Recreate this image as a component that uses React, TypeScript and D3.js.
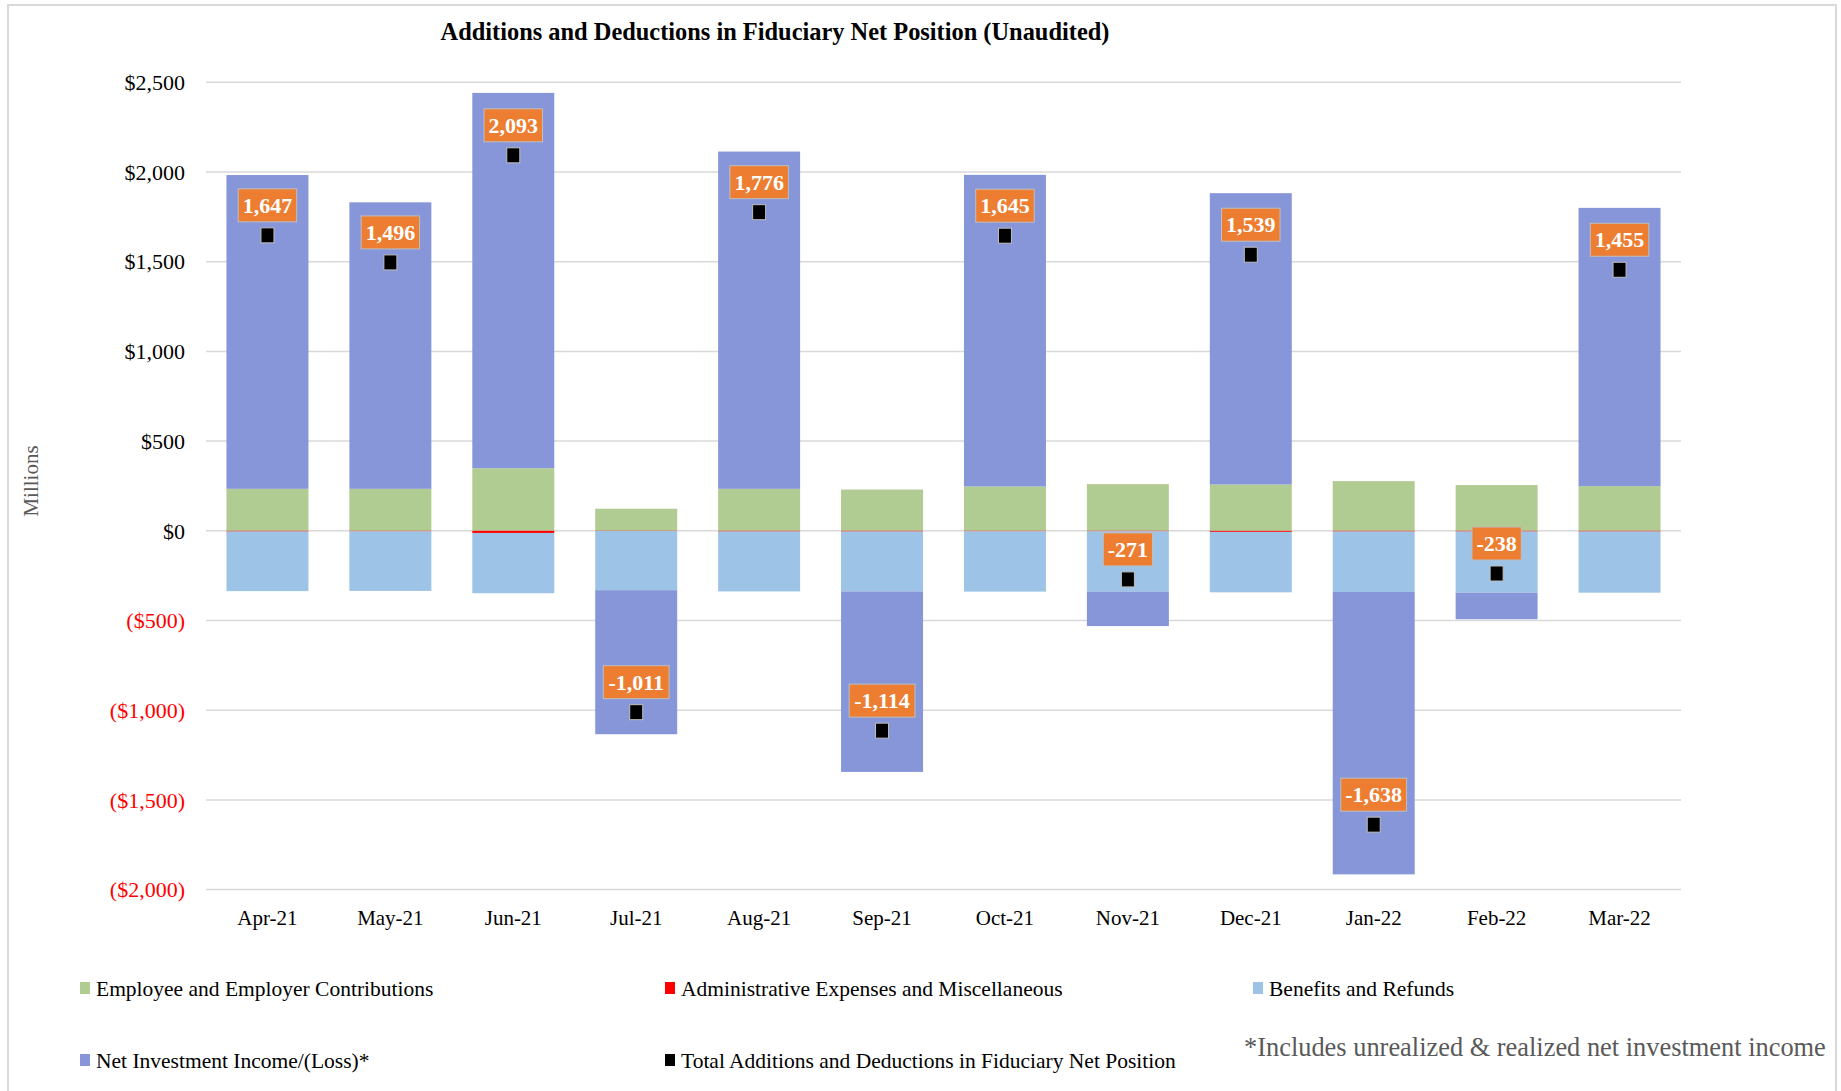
import React from "react";
import * as d3 from "d3";

const months = ["Apr-21","May-21","Jun-21","Jul-21","Aug-21","Sep-21","Oct-21","Nov-21","Dec-21","Jan-22","Feb-22","Mar-22"];
const contributions = [234, 234, 349, 123, 234, 230, 247, 260, 258, 277, 255, 249];
const adminExpenses = [-4, -3, -12, -1, -4, -4, -3, -3, -6, -4, -4, -4];
const benefits = [-332, -332, -336, -330, -334, -334, -336, -336, -337, -337, -341, -341];
const investment = [1749, 1597, 2092, -803, 1880, -1006, 1737, -192, 1624, -1574, -148, 1551];
const totals = [1647, 1496, 2093, -1011, 1776, -1114, 1645, -271, 1539, -1638, -238, 1455];
const yTicks = [2500, 2000, 1500, 1000, 500, 0, -500, -1000, -1500, -2000];

const seriesKeys = ["contrib", "admin", "benefits", "invest"];
const seriesColors: Record<string, string> = {
  contrib: "#B1CC93",
  admin: "#FF0000",
  benefits: "#9DC3E6",
  invest: "#8696D8",
};

const legendItems = [
  { label: "Employee and Employer Contributions", color: "#B1CC93", x: 80, y: 988 },
  { label: "Administrative Expenses and Miscellaneous", color: "#FF0000", x: 665, y: 988 },
  { label: "Benefits and Refunds", color: "#9DC3E6", x: 1253, y: 988 },
  { label: "Net Investment Income/(Loss)*", color: "#8696D8", x: 80, y: 1060 },
  { label: "Total Additions and Deductions in Fiduciary Net Position", color: "#000000", x: 665, y: 1060 },
];

const FONT = "'Liberation Serif', 'Times New Roman', serif";

const comma = d3.format(",");
function fmtTick(v: number) {
  const s = comma(Math.abs(v));
  return v < 0 ? `($${s})` : `$${s}`;
}
function fmtLabel(v: number) {
  return (v < 0 ? "-" : "") + comma(Math.abs(v));
}

export default function App() {
  const W = 1841, H = 1091;
  const left = 206, right = 1681, top = 82.3, bottom = 889.6;

  const x = d3.scaleBand<string>().domain(months).range([left, right]).paddingInner(0.333).paddingOuter(0.1665);
  const y = d3.scaleLinear().domain([-2000, 2500]).range([bottom, top]);

  const rows = months.map((m, i) => ({
    month: m,
    contrib: contributions[i],
    admin: adminExpenses[i],
    benefits: benefits[i],
    invest: investment[i],
  }));
  const stacked = d3.stack<any>().keys(seriesKeys).offset(d3.stackOffsetDiverging)(rows);

  const bw = x.bandwidth();

  return (
    <svg width={W} height={H} style={{ position: "absolute", left: 0, top: 0 }} fontFamily={FONT}>
      <rect x={0} y={0} width={W} height={H} fill="#fff" />
      <rect x={8} y={5} width={1828} height={1100} fill="none" stroke="#D9D9D9" strokeWidth={2} />
      <text x={775} y={40} textAnchor="middle" fontSize={24.4} fontWeight="bold" fill="#000">
        Additions and Deductions in Fiduciary Net Position (Unaudited)
      </text>

      {yTicks.map((t) => (
        <g key={t}>
          <line x1={left} x2={right} y1={y(t)} y2={y(t)} stroke="#D9D9D9" strokeWidth={1.5} />
          <text x={185} y={y(t)} dy="0.35em" textAnchor="end" fontSize={22} fill={t < 0 ? "#FF0000" : "#000"}>
            {fmtTick(t)}
          </text>
        </g>
      ))}

      <text transform={`translate(38,481) rotate(-90)`} textAnchor="middle" fontSize={21} fill="#595959">
        Millions
      </text>

      {stacked.map((s) => (
        <g key={s.key} fill={seriesColors[s.key]}>
          {s.map((d, i) => {
            const y0 = y(d[0]);
            const y1 = y(d[1]);
            return (
              <rect
                key={i}
                x={x(months[i])!}
                y={Math.min(y0, y1)}
                width={bw}
                height={Math.max(Math.abs(y1 - y0), 0.5)}
              />
            );
          })}
        </g>
      ))}

      {totals.map((v, i) => {
        const cx = x(months[i])! + bw / 2;
        const cy = y(v);
        const label = fmtLabel(v);
        const tw = label.length * 11 - (label.includes(",") ? 5.5 : 0) - (label.startsWith("-") ? 3.7 : 0);
        const bwid = tw + 9;
        return (
          <g key={i}>
            <rect x={cx - 6.5} y={cy - 7.5} width={13} height={15} fill="#000" stroke="#BFBFBF" strokeWidth={1} />
            <rect x={cx - bwid / 2} y={cy - 30 - 16.5} width={bwid} height={33} fill="#ED7D31" stroke="#BFBFBF" strokeWidth={1} />
            <text x={cx} y={cy - 30} dy="0.35em" textAnchor="middle" fontSize={22} fontWeight="bold" fill="#fff">
              {label}
            </text>
          </g>
        );
      })}

      {months.map((m) => (
        <text key={m} x={x(m)! + bw / 2} y={918} dy="0.35em" textAnchor="middle" fontSize={21} fill="#000">
          {m}
        </text>
      ))}

      {legendItems.map((l) => (
        <g key={l.label}>
          <rect x={l.x} y={l.y - 6} width={10} height={12} fill={l.color} />
          <text x={l.x + 16} y={l.y} dy="0.35em" fontSize={21.5} fill="#000">
            {l.label}
          </text>
        </g>
      ))}

      <text x={1244} y={1047} dy="0.35em" fontSize={26.4} fill="#595959">
        *Includes unrealized &amp; realized net investment income
      </text>
    </svg>
  );
}
